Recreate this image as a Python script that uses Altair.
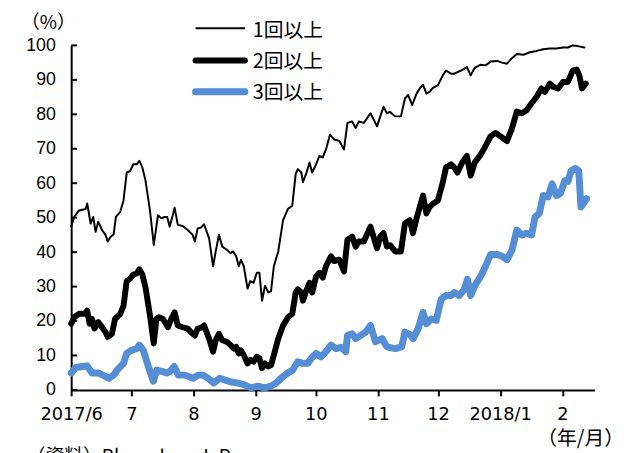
import altair as alt
import pandas as pd

START = "2017-06-01"

# Days since 2017-06-01 and shares (%)
s1_days = [0, 1.5, 3.9, 7.2, 8, 9.7, 11, 12.2, 13.5, 15.4,
           17.1, 18.2, 19.5, 21.2, 22.3, 24.5, 26.1, 27.7, 29.4, 31,
           32.7, 34, 35.5, 37.1, 39.3, 41.2, 42.5, 43.3, 45, 46.6,
           47.9, 49.1, 50.7, 51.6, 53.2, 55.7, 58.1, 60.6, 61.7, 63.1,
           64.7, 66.3, 68.8, 70.8, 72.1, 73.7, 75.4, 77.8, 79.5, 80.8,
           82.3, 83.6, 84.7, 86.1, 88, 89.3, 91, 92.6, 93.9, 95.2,
           96.7, 98.4, 99.7, 101.1, 103.3, 105.7, 108.2, 110.3, 112, 113.1,
           114.8, 115.6, 117.2, 118.9, 120.2, 122.2, 123.8, 125.5, 127.1, 129.1,
           131.2, 133.7, 136.1, 137.8, 140.2, 141.9, 143.5, 146, 149.3, 152.6,
           154.2, 155.8, 157.5, 159.1, 161.6, 164.5, 166.5, 168.1, 170.1, 172.3,
           173.9, 175.5, 177.2, 178.8, 180.4, 182.9, 185.4, 187, 189.5, 191.1,
           194.4, 197.4, 199.3, 201.3, 204.3, 206.7, 209.2, 212.5, 214.9, 217.4,
           219.9, 222.3, 225.6, 228.9, 232.2, 235.5, 238.8, 242, 245.3, 247.8,
           250.2, 252.7, 256]
s1_vals = [47.4, 50.2, 52.1, 52.5, 54.1, 48.3, 50.2, 45.9, 48.8, 46.4,
           45, 43.1, 44.3, 45.2, 50.2, 51.7, 55, 63.1, 63.5, 65.5,
           65.5, 66.5, 64.6, 60.7, 52.1, 42.1, 47.4, 50.7, 49.8, 50.2,
           50.2, 47.4, 50.7, 52.9, 47.9, 47.6, 46.4, 45, 43.1, 46.9,
           47.1, 48.1, 44, 35.9, 40.2, 45, 41.6, 40.6, 39.7, 40.2,
           38.8, 35.9, 37.8, 35.9, 29.4, 31.6, 31.1, 34, 34, 25.9,
           30.2, 28.3, 28.7, 35.9, 40.2, 49.3, 52.6, 53.5, 62.7, 64.1,
           63.1, 60.3, 62.7, 66, 63.1, 65.5, 67.9, 67.5, 69.8, 74.1,
           72.7, 72.3, 69.8, 77.5, 77.9, 76, 77.9, 77.5, 80.3, 76.5,
           79.4, 82.2, 80.3, 80.7, 79.4, 79.4, 84.6, 85.6, 82.7, 86,
           87.5, 88.6, 86, 86.5, 87.7, 88.4, 91.3, 92.7, 91.8, 91.8,
           92.7, 93.7, 91.3, 93.5, 94.4, 94.2, 95.3, 95.5, 95, 94.7,
           96.3, 97.5, 97.3, 98, 98.4, 98.9, 99.1, 99.1, 99.4, 99.4,
           100, 99.8, 99.4]

s2_days = [0, 1.5, 3.9, 6.7, 8, 9.2, 10.4, 11.6, 13.5, 15.4,
           17.1, 18.2, 20.3, 21.9, 24.5, 26.1, 27.7, 29.4, 31, 32.7,
           34, 35.5, 37.1, 39.3, 41.2, 42.5, 43.7, 45.8, 48.3, 49.9,
           51.6, 53.2, 55.7, 58.1, 60.6, 61.7, 63.1, 64.7, 66.3, 68.8,
           70.8, 72.1, 73.7, 75.4, 77.8, 79.5, 81.1, 82.3, 83.6, 84.7,
           86.1, 88, 89.3, 91, 92.6, 93.9, 95.2, 96.7, 98.4, 99.7,
           101.1, 103.3, 105.7, 108.2, 110.3, 112, 113.1, 114.8, 115.6, 117.2,
           118.9, 120.2, 122.2, 123.8, 125.5, 127.1, 129.6, 131.2, 133.7, 136.1,
           137.8, 140.2, 141.9, 143.5, 146, 149.3, 152.6, 154.2, 155.8, 157.5,
           159.1, 161.6, 164.5, 166.5, 168.9, 170.5, 172.3, 173.9, 175.5, 177.2,
           178.8, 180.4, 182.9, 185.4, 187, 189.5, 191.1, 192.7, 195.1, 197.4,
           199.3, 201.3, 204.3, 206.7, 209.2, 211.7, 214.2, 217.4, 219.9, 222.3,
           224.8, 227.2, 229.7, 232.2, 234.6, 236.3, 238.8, 240.4, 242.9, 245.3,
           247.8, 250.2, 252.2, 253.5, 254.8, 256.7]
s2_vals = [19.2, 21.1, 22.1, 22.1, 23, 19.2, 20.6, 17.8, 19.7, 18.2,
           16.8, 15.4, 16.3, 20.6, 22.1, 24.4, 31.6, 32.3, 33.5, 33.8,
           35, 33.5, 29.7, 21.6, 13.5, 20.6, 21.1, 20.6, 18.2, 20.6,
           22.5, 18.7, 18.2, 17.8, 16.3, 15.8, 17.8, 18, 18.7, 14.9,
           11.1, 14.4, 16.3, 14.4, 13.9, 13, 12, 12.5, 10.6, 11.5,
           10.1, 7.7, 8.7, 8.2, 9.6, 9.2, 6.3, 7.7, 6.8, 7.2,
           10.1, 14.9, 18.7, 21.1, 22.1, 28.3, 29.2, 28.3, 25.9, 28.7,
           31.1, 28.3, 33, 34, 32.6, 35.9, 38.8, 37.4, 37.8, 34.4,
           43.6, 44.5, 41.6, 43.1, 43.1, 47.4, 41.1, 44.5, 45.5, 41.6,
           42, 40.2, 40.2, 48.3, 49.3, 45.5, 49.8, 53.1, 56.4, 51.2,
           53.1, 54, 55, 60.3, 64.6, 65.5, 64.6, 63.1, 66, 67.9,
           62.2, 66, 68.3, 70.8, 73.6, 74.6, 73.6, 72.2, 76, 80.8,
           80.3, 81.2, 83.2, 85.1, 87.5, 86.5, 88.9, 88, 87.5, 89.4,
           89.4, 92.7, 93, 91.3, 87.5, 88.9]

s3_days = [0, 2.3, 5.6, 8, 10.4, 13.7, 17.1, 18.7, 21.2, 23.6,
           26.1, 27.7, 30.2, 32.7, 34, 36, 38.5, 41, 42.7, 45.1,
           47.6, 49.3, 51.4, 53.4, 56.7, 60.8, 63.3, 65.8, 68.3, 71.1,
           74.1, 76.6, 79.8, 83.1, 86.4, 89.7, 93.1, 96.4, 99.7, 102.2,
           104.7, 108, 110.5, 113, 115.6, 118, 119.8, 122.2, 124.6, 127.1,
           129.6, 132.1, 134.5, 137, 137.8, 140.2, 141.9, 144.4, 146.9, 149.3,
           151.8, 155.1, 157.5, 161.6, 164.9, 166.5, 169, 170.6, 173.1, 175.5,
           177.2, 179.6, 182.1, 184.6, 187, 189.5, 191.1, 193.6, 196.1, 197.7,
           199.3, 201.3, 204.3, 206.7, 209.2, 212.5, 214.9, 217.4, 219.9, 222.3,
           224.8, 227.2, 229.7, 231.4, 233.5, 235.5, 237.9, 239.9, 242.1, 244,
           246.2, 247.8, 249.4, 251.6, 253.2, 254.3, 256, 257.1]
s3_vals = [4.9, 6.5, 6.8, 7, 4.9, 4.9, 3.9, 3.4, 4.3, 6.2,
           7.7, 10.6, 11.5, 12, 13, 11.5, 6.8, 2.5, 5.8, 5.4,
           4.9, 5.4, 6.8, 4.3, 4.3, 3.4, 4.3, 4.3, 3.4, 2,
           3.4, 2.9, 2.3, 2, 1.5, 0.6, 1.1, 0.6, 1.1, 2,
           3.4, 4.9, 5.8, 8.2, 7.7, 7.7, 9.2, 10.6, 9.6, 11.1,
           13, 12, 12.4, 11.1, 15.8, 16.3, 14.9, 15.8, 16.8, 18.7,
           14, 14.9, 12.5, 12, 12.5, 16.8, 16, 14.9, 17.8, 22.5,
           19.2, 20.6, 20.2, 26.4, 27.4, 27.4, 28.3, 27.4, 29.2, 32.1,
           27.4, 30.2, 33, 35.9, 39.3, 39.3, 38.8, 37.8, 40.6, 46.4,
           45, 45.5, 45, 50.2, 51.2, 56.4, 56, 59.8, 56.4, 57,
           60.7, 60.5, 63.6, 64.3, 63.6, 53.1, 54.5, 55.5]

series_names = ["1回以上", "2回以上", "3回以上"]
y_ticks = [0, 10, 20, 30, 40, 50, 60, 70, 80, 90, 100]

colors = ["#000000", "#000000", "#558ED5"]
widths = [2, 6, 7]
legend_widths = [2, 6, 7]


def frame(days, vals, name):
    d = pd.DataFrame({"day": days, "value": vals})
    d["date"] = pd.Timestamp(START) + pd.to_timedelta(d["day"], unit="D")
    d["series"] = name
    return d


frames = [frame(s1_days, s1_vals, series_names[0]),
          frame(s2_days, s2_vals, series_names[1]),
          frame(s3_days, s3_vals, series_names[2])]

month_ticks = [alt.DateTime(year=2017, month=m, date=1) for m in range(6, 13)] + \
              [alt.DateTime(year=2018, month=m, date=1) for m in (1, 2)]

label_expr = ("(month(datum.value)==0 || (year(datum.value)==2017 && month(datum.value)==5))"
              " ? year(datum.value) + '/' + (month(datum.value)+1) : '' + (month(datum.value)+1)")

y_scale = alt.Scale(domain=[0, 100], nice=False)
y_axis = alt.Axis(values=y_ticks, title=None, grid=False, ticks=False,
                  domainColor="black", domainWidth=2,
                  labelFont="Liberation Sans", labelFontSize=18, labelColor="black",
                  labelPadding=16, labelOverlap=False, labelFlush=False)

x_enc = alt.X(
    "date:T",
    scale=alt.Scale(domain=[alt.DateTime(year=2017, month=6, date=1),
                            alt.DateTime(year=2018, month=2, date=17)]),
    axis=alt.Axis(values=month_ticks, labelExpr=label_expr, title=None,
                  grid=False, domainColor="black", domainWidth=2,
                  tickColor="black", tickWidth=2, tickSize=6,
                  labelFont="DejaVu Sans", labelFontSize=18, labelColor="black",
                  labelPadding=10, labelFlush=False, labelOverlap=False),
)
y_enc = alt.Y("value:Q", scale=y_scale, axis=y_axis)

layers = []
for i, d in enumerate(frames):
    layers.append(
        alt.Chart(d).mark_line(color=colors[i], strokeWidth=widths[i],
                               strokeJoin="round", strokeCap="round")
        .encode(x=x_enc, y=y_enc)
    )

# inward y-axis ticks
tick_df = pd.DataFrame({"value": y_ticks})
layers.append(
    alt.Chart(tick_df).mark_rule(color="black", strokeWidth=2)
    .encode(y=alt.Y("value:Q", scale=y_scale, axis=y_axis),
            x=alt.value(0), x2=alt.value(6))
)

# manual legend
leg_line_y = [-17.3, 15.3, 47]
leg_text_y = [-9, 22.5, 54]
for i, name in enumerate(series_names):
    ldf = pd.DataFrame({"t": [name]})
    layers.append(
        alt.Chart(ldf).mark_rule(color=colors[i], strokeWidth=legend_widths[i],
                                 strokeCap="round" if i > 0 else "butt")
        .encode(x=alt.value(126), x2=alt.value(176), y=alt.value(leg_line_y[i]))
    )
    layers.append(
        alt.Chart(ldf).mark_text(align="left", baseline="alphabetic",
                                 font="Noto Sans CJK JP", fontSize=20, color="black")
        .encode(text="t:N", x=alt.value(184), y=alt.value(leg_text_y[i]))
    )


# annotation texts
def note(txt, x, y, align="left", size=18):
    return alt.Chart(pd.DataFrame({"t": [txt]})).mark_text(
        align=align, baseline="alphabetic", font="Noto Sans CJK JP",
        fontSize=size, color="black"
    ).encode(text="t:N", x=alt.value(x), y=alt.value(y))


layers.append(note("（%）", -23, -17, align="center", size=19))
layers.append(note("（年/月）", 560, 405, align="right", size=20))
layers.append(note("（資料）Bloomberg L.P.", -45, 423, size=19))

chart = alt.layer(*layers).properties(
    width=530,
    height=349,
    autosize=alt.AutoSizeParams(type="none"),
    padding={"left": 64, "top": 35, "right": 30, "bottom": 61},
).configure_view(stroke=None)

chart.save("out.html", embed_options={"renderer": "svg", "actions": False})
